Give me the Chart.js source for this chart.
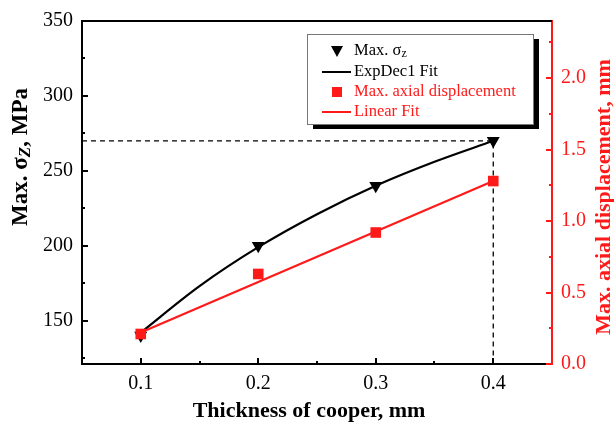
<!DOCTYPE html>
<html><head><meta charset="utf-8">
<script src="https://cdn.jsdelivr.net/npm/chart.js@4/dist/chart.umd.min.js"></script>
<style>html,body{margin:0;padding:0;background:#fff}#wrap{width:614px;height:422px}</style>
</head><body><div id="wrap"><canvas id="c" width="614" height="422"></canvas></div>
<script>
const thickness = [0.1, 0.2, 0.3, 0.4];
const maxSigmaZ = [140, 200, 240, 270];
const maxAxialDisp = [0.21, 0.63, 0.92, 1.28];
const expDecFitX = [0.1, 0.15, 0.2, 0.25, 0.3, 0.35, 0.4];
const expDecFitY = [142, 173, 199, 221, 240, 256, 270];
const linearFitX = [0.1, 0.4];
const linearFitY = [0.22, 1.28];
const guideX = [0.05, 0.4, 0.4];
const guideY = [270, 270, 121];
const xTicks = [0.1, 0.2, 0.3, 0.4];
const xMinorTicks = [0.15, 0.25, 0.35];
const leftTicks = [150, 200, 250, 300, 350];
const leftMinorTicks = [125, 175, 225, 275, 325];
const rightTicks = [0, 0.5, 1.0, 1.5, 2.0];
const rightMinorTicks = [0.25, 0.75, 1.25, 1.75, 2.25];

const SERIF = '"Liberation Serif", "Times New Roman", serif';
const RED = '#ff1a1a';

const pts = (xs, ys) => xs.map((x, i) => ({x: x, y: ys[i]}));

const decor = {
  id: 'decor',
  afterDatasetsDraw(chart) {
    const ctx = chart.ctx, a = chart.chartArea;
    const sx = chart.scales.x, sy = chart.scales.y, sr = chart.scales.y1;
    ctx.save();
    ctx.strokeStyle = '#000'; ctx.lineWidth = 2;
    ctx.beginPath(); ctx.moveTo(a.left, a.top); ctx.lineTo(a.right, a.top); ctx.stroke();
    const tick = (scale, vals, len, color, kind) => {
      ctx.strokeStyle = color; ctx.lineWidth = 2;
      vals.forEach(v => {
        const p = Math.round(scale.getPixelForValue(v));
        ctx.beginPath();
        if (kind === 'x') { ctx.moveTo(p, a.bottom); ctx.lineTo(p, a.bottom - len); }
        else if (kind === 'l') { ctx.moveTo(a.left, p); ctx.lineTo(a.left + len, p); }
        else { ctx.moveTo(a.right, p); ctx.lineTo(a.right - len, p); }
        ctx.stroke();
      });
    };
    tick(sx, xTicks, 6, '#000', 'x');
    tick(sx, xMinorTicks, 3, '#000', 'x');
    tick(sy, leftTicks, 6, '#000', 'l');
    tick(sy, leftMinorTicks, 3, '#000', 'l');
    tick(sr, rightTicks, 6, RED, 'r');
    tick(sr, rightMinorTicks, 3, RED, 'r');

    ctx.textBaseline = 'middle';
    ctx.fillStyle = '#000';
    ctx.font = 'bold 22px ' + SERIF;
    ctx.textAlign = 'center';
    ctx.fillText(sx.options.title.text, 309, 411);
    ctx.save();
    ctx.translate(604, 197); ctx.rotate(-Math.PI / 2);
    ctx.fillStyle = RED; ctx.textAlign = 'center';
    ctx.fillText(sr.options.title.text, 0, 0);
    ctx.restore();
    const lt = sy.options.title.text;
    const idx = lt.indexOf('σ') + 1;
    const p1 = lt.slice(0, idx), sub = lt.charAt(idx), p2 = lt.slice(idx + 1);
    ctx.save();
    ctx.translate(21, 157); ctx.rotate(-Math.PI / 2);
    ctx.fillStyle = '#000'; ctx.textAlign = 'left';
    const f1 = 'bold 23px ' + SERIF, f2 = 'italic bold 17px ' + SERIF;
    ctx.font = f1; const w1 = ctx.measureText(p1).width, w3 = ctx.measureText(p2).width;
    ctx.font = f2; const w2 = ctx.measureText(sub).width;
    let x0 = -(w1 + w2 + w3) / 2;
    ctx.font = f1; ctx.fillText(p1, x0, 0);
    ctx.font = f2; ctx.fillText(sub, x0 + w1, 5);
    ctx.font = f1; ctx.fillText(p2, x0 + w1 + w2, 0);
    ctx.restore();

    const bx = 307, by = 34, bw = 226, bh = 90;
    ctx.fillStyle = '#000';
    ctx.fillRect(bx + 6, by + 5, bw, bh);
    ctx.fillStyle = '#fff';
    ctx.fillRect(bx, by, bw, bh);
    ctx.strokeStyle = '#777'; ctx.lineWidth = 1;
    ctx.strokeRect(bx + 0.5, by + 0.5, bw, bh);
    const ds = chart.data.datasets;
    const rows = [
      {d: ds[0], y: 51, kind: 'tri'},
      {d: ds[2], y: 72, kind: 'line'},
      {d: ds[1], y: 92, kind: 'sq'},
      {d: ds[3], y: 112, kind: 'line'}
    ];
    rows.forEach(r => {
      const col = r.d.borderColor;
      ctx.fillStyle = col; ctx.strokeStyle = col;
      if (r.kind === 'tri') {
        ctx.beginPath(); ctx.moveTo(331, r.y - 5); ctx.lineTo(343, r.y - 5); ctx.lineTo(337, r.y + 6); ctx.closePath(); ctx.fill();
      } else if (r.kind === 'sq') {
        ctx.fillRect(332, r.y - 5, 10, 10);
      } else {
        ctx.lineWidth = 2; ctx.beginPath(); ctx.moveTo(322, r.y); ctx.lineTo(351, r.y); ctx.stroke();
      }
      ctx.textAlign = 'left'; ctx.textBaseline = 'middle';
      const lab = r.d.label;
      const si = lab.indexOf('σ');
      ctx.font = '16.5px ' + SERIF;
      if (si >= 0) {
        const a1 = lab.slice(0, si + 1), a2 = lab.slice(si + 1);
        ctx.fillText(a1, 354, r.y);
        const w = ctx.measureText(a1).width;
        ctx.font = '12px ' + SERIF;
        ctx.fillText(a2, 354 + w, r.y + 3);
      } else {
        ctx.fillText(lab, 354, r.y);
      }
    });
    ctx.restore();
  }
};

new Chart(document.getElementById('c'), {
  type: 'scatter',
  data: {
    datasets: [
      {label: 'Max. σz', data: pts(thickness, maxSigmaZ), yAxisID: 'y', showLine: false,
       pointStyle: 'triangle', rotation: 180, pointRadius: 7.5, backgroundColor: '#000', borderColor: '#000', borderWidth: 0, order: 1},
      {label: 'Max. axial displacement', data: pts(thickness, maxAxialDisp), yAxisID: 'y1', showLine: false,
       pointStyle: 'rect', pointRadius: 7.5, backgroundColor: RED, borderColor: RED, borderWidth: 0, order: 0},
      {label: 'ExpDec1 Fit', data: pts(expDecFitX, expDecFitY), yAxisID: 'y', showLine: true, cubicInterpolationMode: 'monotone',
       pointRadius: 0, borderColor: '#000', borderWidth: 2.2, order: 3},
      {label: 'Linear Fit', data: pts(linearFitX, linearFitY), yAxisID: 'y1', showLine: true,
       pointRadius: 0, borderColor: RED, borderWidth: 2.2, order: 2},
      {label: 'guide', data: pts(guideX, guideY), yAxisID: 'y', showLine: true,
       pointRadius: 0, borderColor: '#000', borderWidth: 1.3, borderDash: [5, 4], order: 4}
    ]
  },
  options: {
    responsive: false, animation: false, devicePixelRatio: 1,
    layout: {padding: {top: 20, left: 0, right: 0, bottom: 0}},
    plugins: {legend: {display: false}, tooltip: {enabled: false}},
    scales: {
      x: {type: 'linear', position: 'bottom', min: 0.05, max: 0.45,
          afterBuildTicks: s => { s.ticks = xTicks.map(v => ({value: v})); },
          afterFit: s => { s.height = 58; },
          grid: {display: false, drawTicks: false},
          border: {display: true, color: '#000', width: 2},
          title: {display: false, text: 'Thickness of cooper, mm'},
          ticks: {color: '#000', font: {family: SERIF, size: 20}, padding: 8, maxRotation: 0,
                  callback: v => v.toFixed(1)}},
      y: {type: 'linear', position: 'left', min: 121, max: 350,
          afterBuildTicks: s => { s.ticks = leftTicks.map(v => ({value: v})); },
          afterFit: s => { s.width = 82; },
          grid: {display: false, drawTicks: false},
          border: {display: true, color: '#000', width: 2},
          title: {display: false, text: 'Max. σZ, MPa'},
          ticks: {color: '#000', font: {family: SERIF, size: 20}, padding: 9,
                  callback: v => String(v)}},
      y1: {type: 'linear', position: 'right', min: 0, max: 2.4,
          afterBuildTicks: s => { s.ticks = rightTicks.map(v => ({value: v})); },
          afterFit: s => { s.width = 62; },
          grid: {display: false, drawTicks: false},
          border: {display: true, color: RED, width: 2},
          title: {display: false, text: 'Max. axial displacement, mm'},
          ticks: {color: RED, font: {family: SERIF, size: 20}, padding: 9,
                  callback: v => v.toFixed(1)}}
    }
  },
  plugins: [decor]
});
</script></body></html>
